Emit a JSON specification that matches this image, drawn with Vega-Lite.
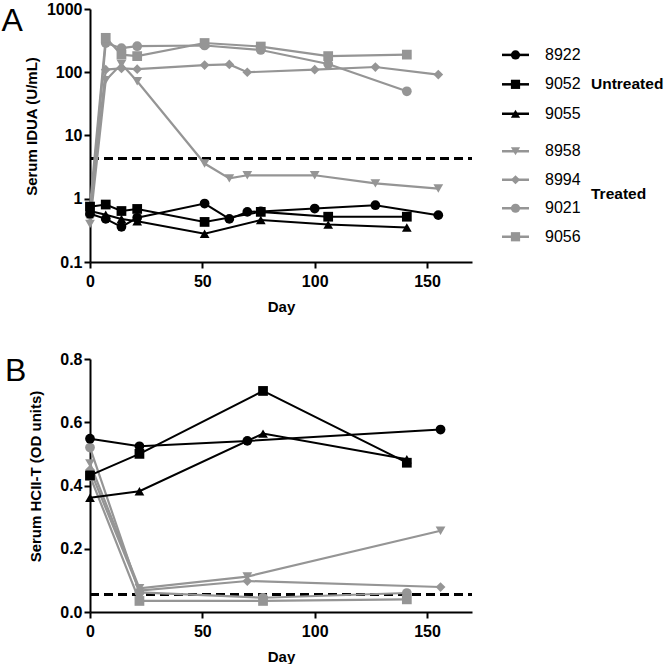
{
  "$schema": "https://vega.github.io/schema/vega-lite/v6.json",
  "padding": {"left": 1, "top": 1, "right": 0, "bottom": 0},
  "config": {
    "font": "Liberation Sans",
    "view": {"stroke": null},
    "title": {"fontSize": 32, "fontWeight": "normal", "color": "black", "font": "Liberation Sans"},
    "axis": {"domainColor": "black", "domainWidth": 2, "tickColor": "black", "tickWidth": 2, "tickSize": 6, "labelColor": "black", "labelFont": "Liberation Sans", "labelFontSize": 16, "labelFontWeight": "bold", "titleFont": "Liberation Sans", "titleFontSize": 15, "titleFontWeight": "bold", "titleColor": "black", "grid": false},
    "axisX": {"labelPadding": 5, "titlePadding": 10, "labelFlush": false},
    "axisY": {"labelPadding": 2, "titlePadding": 7, "minExtent": 40, "titleY": 117}
  },
  "datasets": {
    "a": [
      {"id": "8922", "group": "Untreated", "day": 0, "v": 0.58},
      {"id": "8922", "group": "Untreated", "day": 7, "v": 0.48},
      {"id": "8922", "group": "Untreated", "day": 14, "v": 0.36},
      {"id": "8922", "group": "Untreated", "day": 21, "v": 0.5},
      {"id": "8922", "group": "Untreated", "day": 51, "v": 0.84},
      {"id": "8922", "group": "Untreated", "day": 62, "v": 0.48},
      {"id": "8922", "group": "Untreated", "day": 70, "v": 0.62},
      {"id": "8922", "group": "Untreated", "day": 76, "v": 0.63},
      {"id": "8922", "group": "Untreated", "day": 100, "v": 0.7},
      {"id": "8922", "group": "Untreated", "day": 127, "v": 0.79},
      {"id": "8922", "group": "Untreated", "day": 155, "v": 0.55},
      {"id": "9052", "group": "Untreated", "day": 0, "v": 0.75},
      {"id": "9052", "group": "Untreated", "day": 7, "v": 0.81},
      {"id": "9052", "group": "Untreated", "day": 14, "v": 0.64},
      {"id": "9052", "group": "Untreated", "day": 21, "v": 0.69},
      {"id": "9052", "group": "Untreated", "day": 51, "v": 0.43},
      {"id": "9052", "group": "Untreated", "day": 76, "v": 0.62},
      {"id": "9052", "group": "Untreated", "day": 106, "v": 0.52},
      {"id": "9052", "group": "Untreated", "day": 141, "v": 0.52},
      {"id": "9055", "group": "Untreated", "day": 0, "v": 0.64},
      {"id": "9055", "group": "Untreated", "day": 7, "v": 0.56},
      {"id": "9055", "group": "Untreated", "day": 14, "v": 0.48},
      {"id": "9055", "group": "Untreated", "day": 21, "v": 0.44},
      {"id": "9055", "group": "Untreated", "day": 51, "v": 0.28},
      {"id": "9055", "group": "Untreated", "day": 76, "v": 0.46},
      {"id": "9055", "group": "Untreated", "day": 106, "v": 0.39},
      {"id": "9055", "group": "Untreated", "day": 141, "v": 0.35},
      {"id": "8958", "group": "Treated", "day": 0, "v": 0.4},
      {"id": "8958", "group": "Treated", "day": 7, "v": 75},
      {"id": "8958", "group": "Treated", "day": 14, "v": 135},
      {"id": "8958", "group": "Treated", "day": 21, "v": 72},
      {"id": "8958", "group": "Treated", "day": 51, "v": 3.6},
      {"id": "8958", "group": "Treated", "day": 62, "v": 2.1},
      {"id": "8958", "group": "Treated", "day": 70, "v": 2.35},
      {"id": "8958", "group": "Treated", "day": 100, "v": 2.35},
      {"id": "8958", "group": "Treated", "day": 127, "v": 1.75},
      {"id": "8958", "group": "Treated", "day": 155, "v": 1.45},
      {"id": "8994", "group": "Treated", "day": 0, "v": 0.6},
      {"id": "8994", "group": "Treated", "day": 7, "v": 110},
      {"id": "8994", "group": "Treated", "day": 14, "v": 115},
      {"id": "8994", "group": "Treated", "day": 21, "v": 112},
      {"id": "8994", "group": "Treated", "day": 51, "v": 130},
      {"id": "8994", "group": "Treated", "day": 62, "v": 133},
      {"id": "8994", "group": "Treated", "day": 70, "v": 100},
      {"id": "8994", "group": "Treated", "day": 100, "v": 110},
      {"id": "8994", "group": "Treated", "day": 127, "v": 121},
      {"id": "8994", "group": "Treated", "day": 155, "v": 92},
      {"id": "9021", "group": "Treated", "day": 0, "v": 0.55},
      {"id": "9021", "group": "Treated", "day": 7, "v": 290},
      {"id": "9021", "group": "Treated", "day": 14, "v": 240},
      {"id": "9021", "group": "Treated", "day": 21, "v": 258},
      {"id": "9021", "group": "Treated", "day": 51, "v": 265},
      {"id": "9021", "group": "Treated", "day": 76, "v": 225},
      {"id": "9021", "group": "Treated", "day": 106, "v": 135},
      {"id": "9021", "group": "Treated", "day": 141, "v": 50},
      {"id": "9056", "group": "Treated", "day": 0, "v": 0.75},
      {"id": "9056", "group": "Treated", "day": 7, "v": 350},
      {"id": "9056", "group": "Treated", "day": 14, "v": 190},
      {"id": "9056", "group": "Treated", "day": 21, "v": 180},
      {"id": "9056", "group": "Treated", "day": 51, "v": 290},
      {"id": "9056", "group": "Treated", "day": 76, "v": 255},
      {"id": "9056", "group": "Treated", "day": 106, "v": 180},
      {"id": "9056", "group": "Treated", "day": 141, "v": 190}
    ],
    "b": [
      {"id": "8922", "group": "Untreated", "day": 0, "v": 0.548},
      {"id": "8922", "group": "Untreated", "day": 22, "v": 0.524},
      {"id": "8922", "group": "Untreated", "day": 70, "v": 0.541},
      {"id": "8922", "group": "Untreated", "day": 156, "v": 0.577},
      {"id": "9052", "group": "Untreated", "day": 0, "v": 0.432},
      {"id": "9052", "group": "Untreated", "day": 22, "v": 0.5},
      {"id": "9052", "group": "Untreated", "day": 77, "v": 0.699},
      {"id": "9052", "group": "Untreated", "day": 141, "v": 0.472},
      {"id": "9055", "group": "Untreated", "day": 0, "v": 0.361},
      {"id": "9055", "group": "Untreated", "day": 22, "v": 0.382},
      {"id": "9055", "group": "Untreated", "day": 77, "v": 0.564},
      {"id": "9055", "group": "Untreated", "day": 141, "v": 0.483},
      {"id": "8958", "group": "Treated", "day": 0, "v": 0.47},
      {"id": "8958", "group": "Treated", "day": 22, "v": 0.075},
      {"id": "8958", "group": "Treated", "day": 70, "v": 0.112},
      {"id": "8958", "group": "Treated", "day": 156, "v": 0.257},
      {"id": "8994", "group": "Treated", "day": 0, "v": 0.45},
      {"id": "8994", "group": "Treated", "day": 22, "v": 0.068},
      {"id": "8994", "group": "Treated", "day": 70, "v": 0.098},
      {"id": "8994", "group": "Treated", "day": 156, "v": 0.079},
      {"id": "9021", "group": "Treated", "day": 0, "v": 0.52},
      {"id": "9021", "group": "Treated", "day": 22, "v": 0.062},
      {"id": "9021", "group": "Treated", "day": 77, "v": 0.045},
      {"id": "9021", "group": "Treated", "day": 141, "v": 0.06},
      {"id": "9056", "group": "Treated", "day": 0, "v": 0.43},
      {"id": "9056", "group": "Treated", "day": 22, "v": 0.035},
      {"id": "9056", "group": "Treated", "day": 77, "v": 0.035},
      {"id": "9056", "group": "Treated", "day": 141, "v": 0.04}
    ],
    "leg": [
      {"id": "8922", "group": "Untreated"},
      {"id": "9052", "group": "Untreated"},
      {"id": "9055", "group": "Untreated"},
      {"id": "8958", "group": "Treated"},
      {"id": "8994", "group": "Treated"},
      {"id": "9021", "group": "Treated"},
      {"id": "9056", "group": "Treated"}
    ]
  },
  "spacing": 37,
  "vconcat": [
    {
      "spacing": 27,
      "hconcat": [
        {
          "width": 382,
          "height": 253,
          "title": {"text": "A", "orient": "top", "anchor": "start", "frame": "bounds", "baseline": "top", "offset": -37, "dx": -23},
          "data": {"name": "a"},
          "encoding": {
            "x": {"field": "day", "type": "quantitative", "scale": {"domain": [0, 170], "nice": false}, "axis": {"values": [0, 50, 100, 150], "title": "Day"}},
            "y": {"field": "v", "type": "quantitative", "scale": {"type": "log", "domain": [0.1, 1000], "nice": false}, "axis": {"values": [0.1, 1, 10, 100, 1000], "format": "~g", "title": "Serum IDUA (U/mL)"}},
            "shape": {"field": "id", "type": "nominal", "scale": {"domain": ["8922", "9052", "9055", "8958", "8994", "9021", "9056"], "range": ["circle", "square", "triangle-up", "triangle-down", "diamond", "circle", "square"]}, "legend": null}
          },
          "layer": [
            {"mark": {"type": "rule", "strokeDash": [9, 5], "strokeWidth": 2, "color": "black"}, "encoding": {"x": {"datum": 0, "type": "quantitative"}, "x2": {"datum": 170}, "y": {"datum": 4.3, "type": "quantitative"}, "shape": null}},
            {"transform": [{"filter": "datum.group === 'Treated'"}], "mark": {"type": "line", "color": "#959595", "strokeWidth": 2.2}, "encoding": {"detail": {"field": "id"}, "shape": null}},
            {"transform": [{"filter": "datum.group === 'Treated'"}], "mark": {"type": "point", "filled": true, "opacity": 1, "color": "#959595", "size": 95}},
            {"transform": [{"filter": "datum.group === 'Untreated'"}], "mark": {"type": "line", "color": "black", "strokeWidth": 2}, "encoding": {"detail": {"field": "id"}, "shape": null}},
            {"transform": [{"filter": "datum.group === 'Untreated'"}], "mark": {"type": "point", "filled": true, "opacity": 1, "color": "black", "size": 95}}
          ]
        },
        {
          "spacing": 10,
          "vconcat": [
            {
              "width": 27,
              "height": 117.7,
              "data": {"name": "leg"},
              "transform": [{"filter": "datum.group === 'Untreated'"}],
              "encoding": {
                "y": {"field": "id", "type": "nominal", "scale": {"type": "point", "padding": 1.05, "align": 0.78}, "axis": null},
                "x": {"datum": 0.5, "type": "quantitative", "scale": {"domain": [0, 1]}, "axis": null}
              },
              "layer": [
                {"mark": {"type": "rule", "strokeWidth": 2.5, "color": "black"}, "encoding": {"x": {"datum": 0, "type": "quantitative"}, "x2": {"datum": 1}}},
                {"mark": {"type": "point", "filled": true, "opacity": 1, "color": "black", "size": 85}, "encoding": {"shape": {"field": "id", "type": "nominal", "scale": {"domain": ["8922", "9052", "9055"], "range": ["circle", "square", "triangle-up"]}, "legend": null}}},
                {"mark": {"type": "text", "align": "left", "baseline": "middle", "dx": 16, "fontSize": 16, "color": "black"}, "encoding": {"x": {"datum": 1, "type": "quantitative"}, "text": {"field": "id"}}},
                {"data": {"values": [{"id": "9052", "group": "Untreated", "label": "Untreated"}]}, "mark": {"type": "text", "align": "left", "baseline": "middle", "dx": 62, "fontSize": 15.5, "fontWeight": "bold", "color": "black"}, "encoding": {"x": {"datum": 1, "type": "quantitative"}, "text": {"field": "label"}}}
              ]
            },
            {
              "width": 27,
              "height": 114,
              "data": {"name": "leg"},
              "transform": [{"filter": "datum.group === 'Treated'"}],
              "encoding": {
                "y": {"field": "id", "type": "nominal", "scale": {"type": "point", "padding": 0.5}, "axis": null},
                "x": {"datum": 0.5, "type": "quantitative", "scale": {"domain": [0, 1]}, "axis": null}
              },
              "layer": [
                {"mark": {"type": "rule", "strokeWidth": 2.5, "color": "#959595"}, "encoding": {"x": {"datum": 0, "type": "quantitative"}, "x2": {"datum": 1}}},
                {"mark": {"type": "point", "filled": true, "opacity": 1, "color": "#959595", "size": 85}, "encoding": {"shape": {"field": "id", "type": "nominal", "scale": {"domain": ["8958", "8994", "9021", "9056"], "range": ["triangle-down", "diamond", "circle", "square"]}, "legend": null}}},
                {"mark": {"type": "text", "align": "left", "baseline": "middle", "dx": 16, "fontSize": 16, "color": "black"}, "encoding": {"x": {"datum": 1, "type": "quantitative"}, "text": {"field": "id"}}},
                {"data": {"values": [{"id": "8994", "group": "Treated", "label": "Treated"}]}, "mark": {"type": "text", "align": "left", "baseline": "middle", "dx": 62, "dy": 14.25, "fontSize": 15.5, "fontWeight": "bold", "color": "black"}, "encoding": {"x": {"datum": 1, "type": "quantitative"}, "text": {"field": "label"}}}
              ]
            }
          ]
        }
      ]
    },
    {
      "width": 382,
      "height": 253,
      "title": {"text": "B", "orient": "top", "anchor": "start", "frame": "bounds", "baseline": "top", "offset": -37, "dx": -23},
      "data": {"name": "b"},
      "encoding": {
        "x": {"field": "day", "type": "quantitative", "scale": {"domain": [0, 170], "nice": false}, "axis": {"values": [0, 50, 100, 150], "title": "Day"}},
        "y": {"field": "v", "type": "quantitative", "scale": {"domain": [0, 0.8], "nice": false}, "axis": {"values": [0, 0.2, 0.4, 0.6, 0.8], "format": ".1f", "title": "Serum HCII-T (OD units)"}},
        "shape": {"field": "id", "type": "nominal", "scale": {"domain": ["8922", "9052", "9055", "8958", "8994", "9021", "9056"], "range": ["circle", "square", "triangle-up", "triangle-down", "diamond", "circle", "square"]}, "legend": null}
      },
      "layer": [
        {"mark": {"type": "rule", "strokeDash": [9, 5], "strokeWidth": 2, "color": "black"}, "encoding": {"x": {"datum": 0, "type": "quantitative"}, "x2": {"datum": 170}, "y": {"datum": 0.055, "type": "quantitative"}, "shape": null}},
        {"transform": [{"filter": "datum.group === 'Treated'"}], "mark": {"type": "line", "color": "#959595", "strokeWidth": 2.2}, "encoding": {"detail": {"field": "id"}, "shape": null}},
        {"transform": [{"filter": "datum.group === 'Treated'"}], "mark": {"type": "point", "filled": true, "opacity": 1, "color": "#959595", "size": 95}},
        {"transform": [{"filter": "datum.group === 'Untreated'"}], "mark": {"type": "line", "color": "black", "strokeWidth": 2}, "encoding": {"detail": {"field": "id"}, "shape": null}},
        {"transform": [{"filter": "datum.group === 'Untreated'"}], "mark": {"type": "point", "filled": true, "opacity": 1, "color": "black", "size": 95}}
      ]
    }
  ]
}
